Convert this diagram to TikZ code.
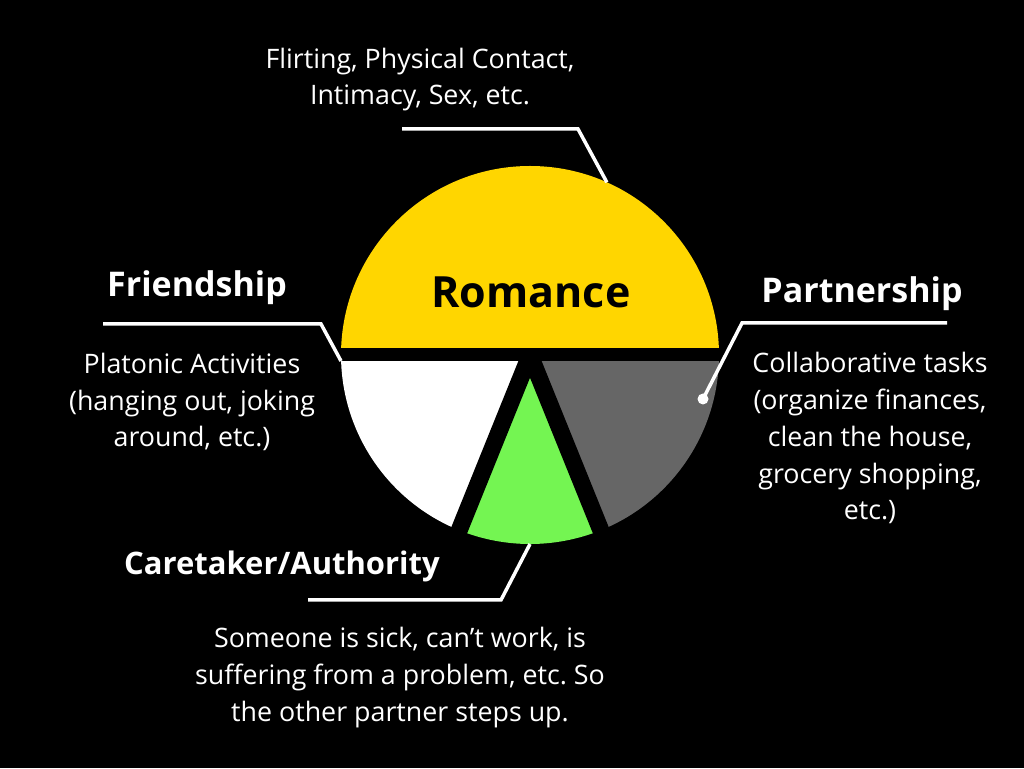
\documentclass[tikz,border=0pt]{standalone}
\usepackage{fontspec}
\setmainfont{Open Sans}
\usepackage{tikz}
\usetikzlibrary{calc}
\definecolor{romanceyellow}{RGB}{255,214,0}
\definecolor{carergreen}{RGB}{116,245,82}
\definecolor{partnergray}{RGB}{102,102,102}
\frenchspacing

\begin{document}
\begin{tikzpicture}[
        x=1pt, y=1pt,
        heading/.style={text=white, font=\fontsize{34}{40}\selectfont\bfseries, anchor=base, inner sep=0pt},
        body/.style={text=white, font=\fontsize{26.8}{36.8}\selectfont, align=center, anchor=base, inner sep=0pt},
        leader/.style={draw=white, line width=3.5pt},
        gap/.style={draw=black, line width=#1}
        ]

        % Background
        \fill[black] (0,0) rectangle (1024,768);
        \useasboundingbox (0,0) rectangle (1024,768);

        % Pie slices
        \coordinate (c) at (530,413);
        \fill[romanceyellow] (c) -- ++(0:189) arc (0:180:189) -- cycle;
        \fill[white] (c) -- ++(180:189) arc (180:248:189) -- cycle;
        \fill[carergreen] (c) -- ++(248:189) arc (248:292:189) -- cycle;
        \fill[partnergray] (c) -- ++(292:189) arc (292:360:189) -- cycle;

        % Gaps between slices
        \draw[gap=13pt] ([xshift=-195pt]c) -- ([xshift=195pt]c);
        \draw[gap=17pt] (c) -- ++(248:200);
        \draw[gap=17pt] (c) -- ++(292:200);

        % Labels (multi-line labels sit on their last baseline)
        \node[body] (flirting) at (420,663) {Flirting, Physical Contact,\\Intimacy, Sex, etc.};
        \node[heading, text=black, font=\fontsize{43}{50}\selectfont\bfseries] (romance) at (531,460) {Romance};
        \node[heading] (friendship) at (197,471) {Friendship};
        \node[body] (platonic) at (192,321) {Platonic Activities\\(hanging out, joking\\around, etc.)};
        \node[heading] (partnership) at (862,465) {Partnership};
        \node[body] (collab) at (870,248) {Collaborative tasks\\(organize finances,\\clean the house,\\grocery shopping,\\etc.)};
        \node[heading, font=\fontsize{31}{40}\selectfont\bfseries] (caretaker) at (282,193) {Caretaker/Authority};
        \node[body] (someone) at (400,47) {Someone is sick, can’t work, is\\suffering from a problem, etc. So\\the other partner steps up.};

        % Leader lines
        \coordinate (flirt-a) at (402,639);
        \coordinate (flirt-b) at (578,639);
        \coordinate (flirt-c) at ($(c)+(66:189)$);
        \draw[leader] (flirt-a) -- (flirt-b) -- (flirt-c);

        \coordinate (friend-a) at (103,444);
        \coordinate (friend-b) at (321,444);
        \coordinate (friend-c) at (341,407);
        \draw[leader] (friend-a) -- (friend-b) -- (friend-c);

        \coordinate (partner-a) at (947,445);
        \coordinate (partner-b) at (742,445);
        \coordinate (partner-c) at (703,369);
        \draw[leader] (partner-a) -- (partner-b) -- (partner-c);
        \fill[white] (partner-c) circle (5.5pt);

        \coordinate (carer-a) at (308,168);
        \coordinate (carer-b) at (501,168);
        \coordinate (carer-c) at ($(c)+(270:189)$);
        \draw[leader] (carer-a) -- (carer-b) -- (carer-c);
\end{tikzpicture}
\end{document}
